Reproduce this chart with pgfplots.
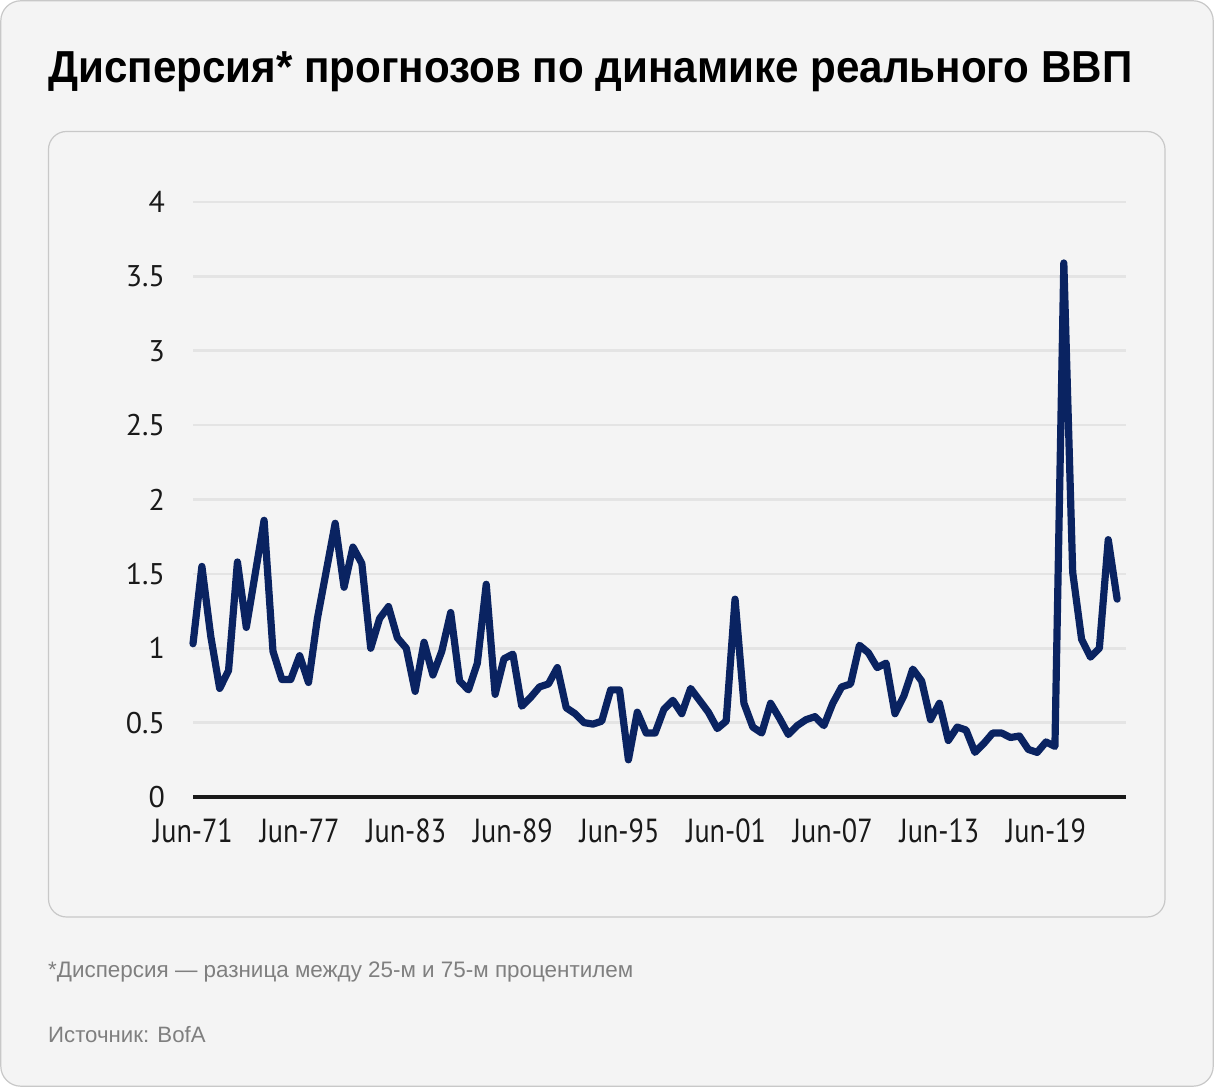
\documentclass[border=0pt]{standalone}
\usepackage{fontspec}
\setmainfont{Liberation Sans}
\newfontfamily\titlefont[FakeStretch=0.94]{Liberation Sans}
\newfontfamily\tickfont{PT Sans}
\newfontfamily\xtickfont[FakeStretch=0.845]{PT Sans}
\usepackage{pgfplots}
\pgfplotsset{compat=1.18}
\definecolor{bg}{HTML}{F4F4F4}
\definecolor{frame}{HTML}{C8C8C8}
\definecolor{navy}{HTML}{0A2361}
\definecolor{gridc}{HTML}{E4E4E4}
\definecolor{note}{HTML}{7F7F7F}
\pgfplotstableread{
t v
0 1.03
0.5 1.55
1 1.08
1.5 0.73
2 0.85
2.5 1.58
3 1.14
3.5 1.50
4 1.86
4.5 0.98
5 0.79
5.5 0.79
6 0.95
6.5 0.77
7 1.20
7.5 1.52
8 1.84
8.5 1.41
9 1.68
9.5 1.57
10 1.00
10.5 1.20
11 1.28
11.5 1.07
12 1.00
12.5 0.71
13 1.04
13.5 0.82
14 0.98
14.5 1.24
15 0.78
15.5 0.72
16 0.90
16.5 1.43
17 0.69
17.5 0.93
18 0.96
18.5 0.61
19 0.67
19.5 0.74
20 0.76
20.5 0.87
21 0.60
21.5 0.56
22 0.50
22.5 0.49
23 0.51
23.5 0.72
24 0.72
24.5 0.25
25 0.57
25.5 0.43
26 0.43
26.5 0.59
27 0.65
27.5 0.56
28 0.73
28.5 0.65
29 0.57
29.5 0.46
30 0.51
30.5 1.33
31 0.63
31.5 0.47
32 0.43
32.5 0.63
33 0.53
33.5 0.42
34 0.48
34.5 0.52
35 0.54
35.5 0.48
36 0.63
36.5 0.74
37 0.76
37.5 1.02
38 0.97
38.5 0.87
39 0.90
39.5 0.56
40 0.68
40.5 0.86
41 0.78
41.5 0.52
42 0.63
42.5 0.38
43 0.47
43.5 0.45
44 0.30
44.5 0.36
45 0.43
45.5 0.43
46 0.40
46.5 0.41
47 0.32
47.5 0.30
48 0.37
48.5 0.34
49 3.59
49.5 1.51
50 1.06
50.5 0.94
51 1.00
51.5 1.73
52 1.33
}\dispersion
\begin{document}
\begin{tikzpicture}[x=1bp,y=1bp]
\fill[white] (0,0) rectangle (1214,1087);
\draw[frame, fill=bg, rounded corners=20bp, line width=1.2bp] (0.8,0.8) rectangle (1213.2,1086.2);
\draw[frame, fill=bg, rounded corners=18bp, line width=1.2bp] (48.5,170) rectangle (1165,955.5);
\node[anchor=base west, inner sep=0] at (48,1004) {\titlefont\fontsize{45}{50}\selectfont\bfseries Дисперсия* прогнозов по динамике реального ВВП};
\node[anchor=base west, inner sep=0, text=note] at (48,109) {\fontsize{22.5}{26}\selectfont *Дисперсия — разница между 25-м и 75-м процентилем};
\node[anchor=base west, inner sep=0, text=note] at (48,44) {\fontsize{22.3}{26}\selectfont Источник: BofA};
\begin{axis}[
  at={(193bp,290bp)}, anchor=south west,
  scale only axis, width=933bp, height=595bp,
  xmin=0, xmax=52.5, ymin=0, ymax=4,
  clip=false,
  axis x line*=bottom, axis y line*=left,
  x axis line style={draw=black!90, line width=3.2bp, -},
  y axis line style={draw=none},
  major tick length=0pt,
  ytick={0,0.5,1,1.5,2,2.5,3,3.5,4},
  yticklabels={0,0.5,1,1.5,2,2.5,3,3.5,4},
  xtick={0,6,12,18,24,30,36,42,48},
  xticklabels={Jun-71,Jun-77,Jun-83,Jun-89,Jun-95,Jun-01,Jun-07,Jun-13,Jun-19},
  yticklabel style={font=\tickfont\fontsize{30}{32}\selectfont, anchor=east, inner sep=0pt, xshift=-28bp, text=black!90},
  xticklabel style={font=\xtickfont\fontsize{33.5}{36}\selectfont, anchor=north, inner sep=0pt, yshift=-22bp, text=black!90},
  ymajorgrids, major grid style={draw=gridc, line width=2.7bp},
]
\addplot[navy, line width=7.2bp, line join=round, line cap=round] table[x=t, y=v] {\dispersion};
\end{axis}
\end{tikzpicture}
\end{document}
